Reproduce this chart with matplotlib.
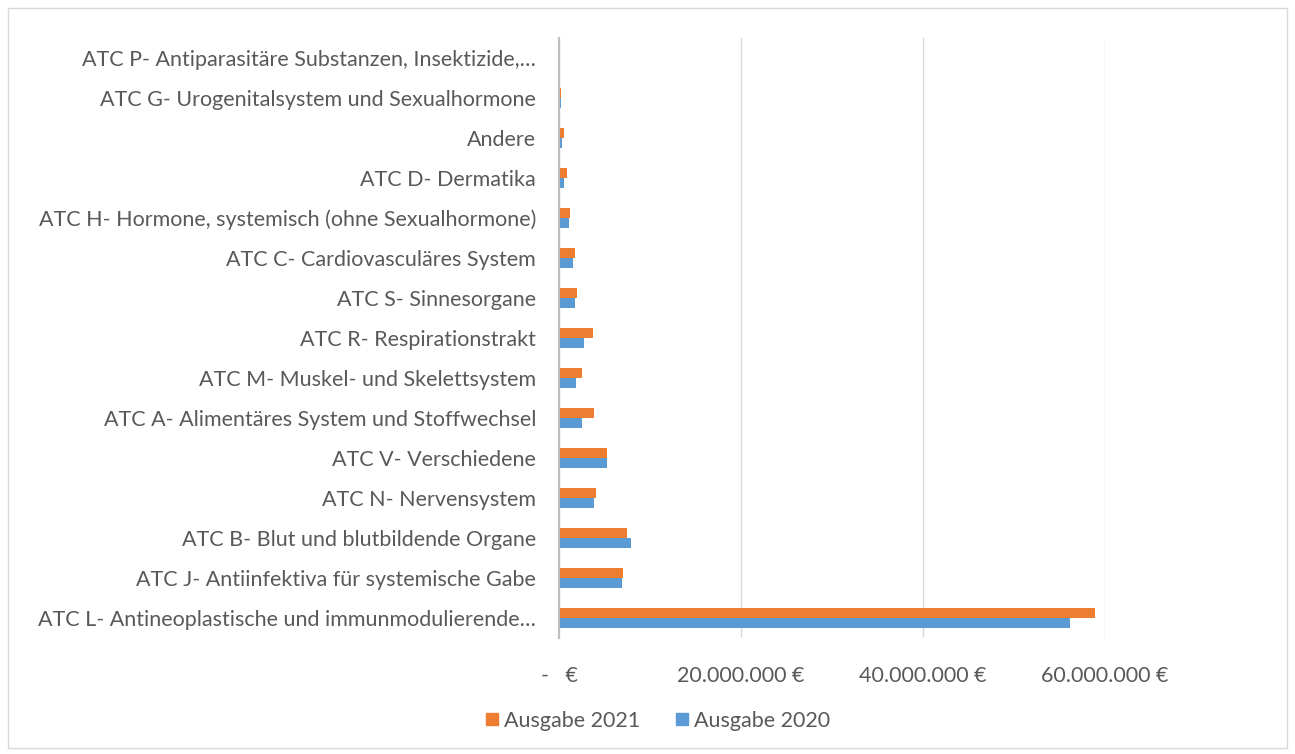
import matplotlib
matplotlib.use("Agg")
import matplotlib.pyplot as plt
from matplotlib.patches import Rectangle
from matplotlib.lines import Line2D
from matplotlib.ticker import FuncFormatter
import numpy as np

categories = [
    "ATC L- Antineoplastische und immunmodulierende…",
    "ATC J- Antiinfektiva für systemische Gabe",
    "ATC B- Blut und blutbildende Organe",
    "ATC N- Nervensystem",
    "ATC V- Verschiedene",
    "ATC A- Alimentäres System und Stoffwechsel",
    "ATC M- Muskel- und Skelettsystem",
    "ATC R- Respirationstrakt",
    "ATC S- Sinnesorgane",
    "ATC C- Cardiovasculäres System",
    "ATC H- Hormone, systemisch (ohne Sexualhormone)",
    "ATC D- Dermatika",
    "Andere",
    "ATC G- Urogenitalsystem und Sexualhormone",
    "ATC P- Antiparasitäre Substanzen, Insektizide,…",
]
ausgabe_2021 = [58.9e6, 7.0e6, 7.5e6, 4.1e6, 5.3e6, 3.8e6, 2.5e6, 3.7e6,
                1.95e6, 1.75e6, 1.25e6, 0.9e6, 0.6e6, 0.2e6, 0.04e6]
ausgabe_2020 = [56.2e6, 6.9e6, 7.95e6, 3.8e6, 5.3e6, 2.55e6, 1.9e6, 2.8e6,
                1.75e6, 1.5e6, 1.05e6, 0.55e6, 0.3e6, 0.25e6, 0.03e6]
xticks = [0, 20e6, 40e6, 60e6]

plt.rcParams['font.family'] = ['Lato', 'DejaVu Sans']
text_color = '#595959'
c21 = '#ED7D31'
c20 = '#5B9BD5'
fs = 15.5

fig = plt.figure(figsize=(12.95, 7.54), dpi=100)
fig.patches.append(Rectangle((8/1295, 6/754), 1279/1295, 740/754, transform=fig.transFigure,
                             fill=False, edgecolor='#D9D9D9', linewidth=1.0))
ax = fig.add_axes([559/1295, 1 - 638/754, (1105 - 559)/1295, 600/754])

y = np.arange(len(categories))
h = 0.25
ax.barh(y + h/2, ausgabe_2021, height=h, color=c21, label='Ausgabe 2021', zorder=3)
ax.barh(y - h/2, ausgabe_2020, height=h, color=c20, label='Ausgabe 2020', zorder=3)

ax.set_xlim(0, 60e6)
ax.set_ylim(-0.5, len(categories) - 0.5)
ax.set_xticks(xticks)

def fmt(v, pos):
    if v == 0:
        return "-   €"
    return f"{int(v):,}".replace(",", ".") + " €"
ax.xaxis.set_major_formatter(FuncFormatter(fmt))
ax.set_yticks(y)
ax.set_yticklabels(categories)

ax.grid(axis='x', color='#D9D9D9', linewidth=1.0, zorder=0)
for s in ['top', 'right', 'bottom']:
    ax.spines[s].set_visible(False)
ax.spines['left'].set_color('#BFBFBF')
ax.spines['left'].set_linewidth(1.5)
ax.spines['left'].set_zorder(4)
ax.tick_params(axis='y', length=0, pad=16.5, labelsize=fs, labelcolor=text_color)
ax.tick_params(axis='x', length=0, pad=20, labelsize=fs, labelcolor=text_color)

handles = [Line2D([], [], marker='s', linestyle='', markersize=8, color=c21),
           Line2D([], [], marker='s', linestyle='', markersize=8, color=c20)]
labels = ['Ausgabe 2021', 'Ausgabe 2020']
fig.legend(handles, labels, loc='center', bbox_to_anchor=(658/1295, 1 - 721/754), ncol=2,
           frameon=False, fontsize=fs, labelcolor=text_color, handlelength=0.5,
           handletextpad=0.3, columnspacing=1.7)

fig.savefig('out.png', dpi=100)
